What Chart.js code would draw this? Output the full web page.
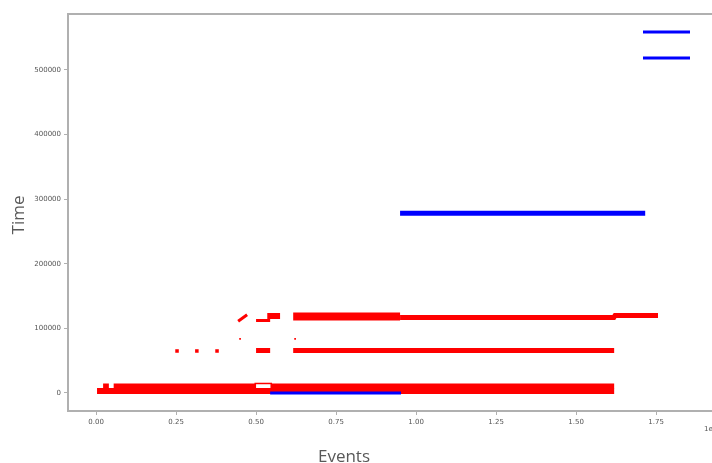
<!DOCTYPE html>
<html>
<head>
<meta charset="utf-8">
<script src="https://cdn.jsdelivr.net/npm/chart.js@4/dist/chart.umd.min.js"></script>
<style>
  html, body { margin: 0; padding: 0; background: #ffffff; overflow: hidden; width: 712px; height: 463px; }
  #wrap { width: 730px; height: 463px; }
</style>
</head>
<body>
<div id="wrap"><canvas id="c" width="730" height="463"></canvas></div>
<script>
// ---- Data (x in units of 1e7 events, y = time) ----
const xTicks = [0, 0.25, 0.5, 0.75, 1.0, 1.25, 1.5, 1.75];
const yTicks = [0, 100000, 200000, 300000, 400000, 500000];

const blueHighX = [0.95, 1.716];
const blueHighY = [278200, 278200];
const blueLowX = [0.544, 0.953];
const blueLowY = [0, 0];

const redBaseLowX = [0.003, 1.619];
const redBaseLowY = [3100, 3100];
const redBaseHighX = [0.022, 0.04, null, 0.055, 0.5, null, 0.545, 1.619];
const redBaseHighY = [10800, 10800, null, 10800, 10800, null, 10800, 10800];
const redBaseEdgeX = [0.495, 0.55];
const redBaseEdgeY = [14700, 14700];

const redMidX = [0.5, 0.544, null, 0.616, 1.619];
const redMidY = [65800, 65800, null, 65800, 65800];
const redMidDotsX = [0.253, 0.315, 0.378];
const redMidDotsY = [65000, 65000, 65000];
const redTinyDotsX = [0.45, 0.622];
const redTinyDotsY = [83600, 83600];

const redTopThinX = [0.444, 0.472, null, 0.5, 0.544];
const redTopThinY = [111000, 121000, null, 112000, 112000];
const redTopStepX = [0.535, 0.575];
const redTopStepY = [119200, 119200];
const redTopThickX = [0.616, 0.95];
const redTopThickY = [118400, 118400];
const redTopTailX = [0.95, 1.618, 1.622, 1.756];
const redTopTailY = [116900, 116900, 120000, 120000];

const legendLabels = ['', ''];

function pts(xs, ys) {
  return xs.map((x, i) => (x === null ? { x: NaN, y: null } : { x: x, y: ys[i] }));
}

const RED = '#ff0000';
const BLUE = '#0000ff';
const AXIS = '#b0b0b0';

function lineDs(xs, ys, color, width, order) {
  return {
    type: 'line',
    data: pts(xs, ys),
    borderColor: color,
    backgroundColor: color,
    borderWidth: width,
    pointRadius: 0,
    tension: 0,
    spanGaps: false,
    borderCapStyle: 'butt',
    borderJoinStyle: 'miter',
    fill: false,
    order: order
  };
}
function dotDs(xs, ys, color, r, order) {
  return {
    type: 'scatter',
    data: pts(xs, ys),
    borderColor: color,
    backgroundColor: color,
    pointStyle: 'rect',
    pointRadius: r,
    borderWidth: 0,
    showLine: false,
    order: order
  };
}

const datasets = [
  Object.assign(lineDs(blueHighX, blueHighY, BLUE, 5, 0), { label: legendLabels[0] }),
  Object.assign(lineDs(blueLowX, blueLowY, BLUE, 3, 0), { label: legendLabels[1] }),
  lineDs(redBaseLowX, redBaseLowY, RED, 6, 1),
  lineDs(redBaseHighX, redBaseHighY, RED, 5, 1),
  lineDs(redBaseEdgeX, redBaseEdgeY, RED, 1.5, 1),
  lineDs(redMidX, redMidY, RED, 5, 1),
  dotDs(redMidDotsX, redMidDotsY, RED, 2.5, 1),
  dotDs(redTinyDotsX, redTinyDotsY, RED, 1.2, 1),
  lineDs(redTopThinX, redTopThinY, RED, 3, 1),
  lineDs(redTopStepX, redTopStepY, RED, 6, 1),
  lineDs(redTopThickX, redTopThickY, RED, 8, 1),
  lineDs(redTopTailX, redTopTailY, RED, 5, 1)
];

const extras = {
  id: 'extras',
  afterDraw(chart) {
    const ctx = chart.ctx;
    const a = chart.chartArea;
    ctx.save();
    // top frame line
    ctx.strokeStyle = AXIS;
    ctx.lineWidth = 2;
    ctx.beginPath();
    ctx.moveTo(a.left - 1, a.top);
    ctx.lineTo(a.right + 1, a.top);
    ctx.stroke();
    // legend handles (blue series)
    ctx.strokeStyle = BLUE;
    ctx.lineWidth = 3;
    [0, 1].forEach(i => {
      const y = a.top + 18 + i * 26;
      ctx.beginPath();
      ctx.moveTo(a.right - 79, y);
      ctx.lineTo(a.right - 32, y);
      ctx.stroke();
    });
    // axis titles
    ctx.fillStyle = '#595959';
    ctx.font = '17px "Open Sans", "Noto Sans", sans-serif';
    ctx.textAlign = 'center';
    ctx.textBaseline = 'middle';
    ctx.save();
    ctx.translate(19, 215);
    ctx.rotate(-Math.PI / 2);
    ctx.fillText('Time', 0, 0);
    ctx.restore();
    ctx.textBaseline = 'alphabetic';
    ctx.fillText('Events', 344, 462);
    // offset text
    ctx.font = '7px "DejaVu Sans", sans-serif';
    ctx.fillStyle = '#555555';
    ctx.textAlign = 'left';
    ctx.textBaseline = 'middle';
    ctx.fillText('1e7', 704, 429);
    ctx.restore();
  }
};

Chart.defaults.font.family = '"DejaVu Sans", sans-serif';

new Chart(document.getElementById('c'), {
  data: { datasets: datasets },
  options: {
    responsive: false,
    animation: false,
    devicePixelRatio: 1,
    layout: { padding: { left: 0, top: 14, right: 8, bottom: 0 } },
    plugins: { legend: { display: false }, tooltip: { enabled: false } },
    scales: {
      x: {
        type: 'linear',
        min: -0.0877,
        max: 1.956,
        afterBuildTicks: (s) => { s.ticks = xTicks.map(v => ({ value: v })); },
        afterFit: (s) => { s.height = 52; },
        ticks: {
          callback: (v) => Number(v).toFixed(2),
          font: { size: 7 },
          color: '#555555',
          padding: 3,
          maxRotation: 0,
          autoSkip: false
        },
        grid: { display: true, drawOnChartArea: false, drawTicks: true, tickLength: 4, color: AXIS },
        border: { display: true, color: AXIS, width: 2 }
      },
      y: {
        type: 'linear',
        min: -27900,
        max: 586650,
        afterBuildTicks: (s) => { s.ticks = yTicks.map(v => ({ value: v })); },
        afterFit: (s) => { s.width = 68; },
        ticks: {
          callback: (v) => String(v),
          font: { size: 7 },
          color: '#555555',
          padding: 3,
          autoSkip: false
        },
        grid: { display: true, drawOnChartArea: false, drawTicks: true, tickLength: 4, color: AXIS },
        border: { display: true, color: AXIS, width: 2 }
      }
    }
  },
  plugins: [extras]
});
</script>
</body>
</html>
